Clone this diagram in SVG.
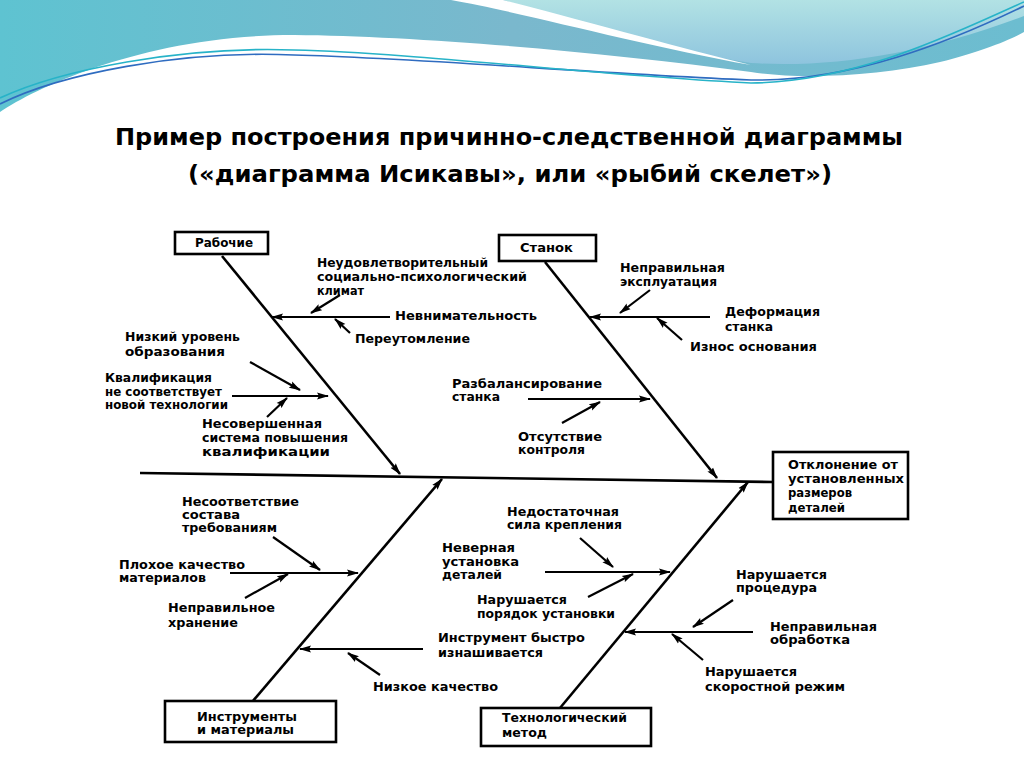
<svg xmlns="http://www.w3.org/2000/svg" width="1024" height="768" viewBox="0 0 1024 768">
<defs>
<linearGradient id="tealG" x1="0" y1="0" x2="1" y2="0">
<stop offset="0" stop-color="#5ec3d1"/>
<stop offset="0.5" stop-color="#7ab8cd"/>
<stop offset="1" stop-color="#6cbdd0"/>
</linearGradient>
<linearGradient id="blobG" x1="0" y1="0" x2="0" y2="1">
<stop offset="0" stop-color="#b2e2e4"/>
<stop offset="1" stop-color="#8ec4de"/>
</linearGradient>
<marker id="ah" viewBox="0 0 12 8" refX="11" refY="4" markerWidth="12" markerHeight="8" markerUnits="userSpaceOnUse" orient="auto">
<path d="M0,0.5 L12,4 L0,7.5 L2,4 Z" fill="#000"/>
</marker>
<style>
.t{font-family:"DejaVu Sans","Liberation Sans",sans-serif;font-weight:bold;font-size:12.5px;fill:#000}
.ttl{font-family:"DejaVu Sans","Liberation Sans",sans-serif;font-weight:bold;font-size:23px;fill:#000}
.bone{stroke:#000;stroke-width:2.6;fill:none}
.sub{stroke:#000;stroke-width:2.2;fill:none;marker-end:url(#ah)}
.box{fill:#fff;stroke:#000;stroke-width:2.6}
</style>
</defs>
<rect width="1024" height="768" fill="#fff"/>
<g id="background">
<rect x="0" y="0" width="1024" height="120" fill="url(#tealG)"/>
<path d="M503,0 C560,18 650,48 751,63 C830,68 920,55 1024,16 V0 Z" fill="url(#blobG)"/>
<path d="M451,0 C520,12 640,45 751,65 C680,48 600,25 503,0 Z" fill="#fff"/>
<path d="M0,112 C40,85 150,35 294,35 C420,36 600,52 751,72 C800,80 880,76 940,62 C980,52 1010,40 1024,32 V768 H0 Z" fill="#fff"/>
<path d="M0,104 C60,74 180,50 294,55 C420,58 600,74 751,80 C850,82 950,42 1024,6" fill="none" stroke="#2f6cc0" stroke-width="1.6"/>
<path d="M0,98 C60,70 180,46 294,50 C420,53 600,76 751,83 C860,82 960,30 1024,2" fill="none" stroke="#27b3c8" stroke-width="1.6"/>
</g>
<g id="title">
<text class="ttl" x="115" y="145" textLength="788" lengthAdjust="spacingAndGlyphs">Пример построения причинно-следственной диаграммы</text>
<text class="ttl" x="188" y="182" textLength="644" lengthAdjust="spacingAndGlyphs">(«диаграмма Исикавы», или «рыбий скелет»)</text>
</g>
<g id="connectors">
<line class="bone" x1="140" y1="473" x2="773" y2="482"/>
<line class="bone" x1="222" y1="256" x2="400" y2="474" marker-end="url(#ah)"/>
<line class="bone" x1="545" y1="262" x2="717" y2="478" marker-end="url(#ah)"/>
<line class="bone" x1="252" y1="702" x2="442" y2="479" marker-end="url(#ah)"/>
<line class="bone" x1="560" y1="708" x2="748" y2="482" marker-end="url(#ah)"/>
<line class="sub" x1="390" y1="317" x2="272" y2="317"/>
<line class="sub" x1="340" y1="295" x2="311" y2="313"/>
<line class="sub" x1="350" y1="333" x2="335" y2="319"/>
<line class="sub" x1="232" y1="396" x2="328" y2="396"/>
<line class="sub" x1="250" y1="362" x2="300" y2="390"/>
<line class="sub" x1="267" y1="417" x2="287" y2="398"/>
<line class="sub" x1="710" y1="317" x2="590" y2="317"/>
<line class="sub" x1="650" y1="290" x2="620" y2="313"/>
<line class="sub" x1="682" y1="340" x2="657" y2="318"/>
<line class="sub" x1="528" y1="399" x2="650" y2="399"/>
<line class="sub" x1="562" y1="423" x2="600" y2="402"/>
<line class="sub" x1="230" y1="573" x2="358" y2="573"/>
<line class="sub" x1="273" y1="537" x2="320" y2="570"/>
<line class="sub" x1="245" y1="598" x2="288" y2="574"/>
<line class="sub" x1="423" y1="649" x2="300" y2="649"/>
<line class="sub" x1="380" y1="675" x2="348" y2="653"/>
<line class="sub" x1="545" y1="572" x2="670" y2="572"/>
<line class="sub" x1="580" y1="538" x2="613" y2="567"/>
<line class="sub" x1="588" y1="597" x2="633" y2="574"/>
<line class="sub" x1="753" y1="632" x2="625" y2="632"/>
<line class="sub" x1="733" y1="600" x2="693" y2="627"/>
<line class="sub" x1="703" y1="660" x2="672" y2="634"/>
</g>
<g id="node-workers">
<rect class="box" x="175" y="232" width="93" height="22"/>
<text class="t" x="195" y="247" textLength="58" lengthAdjust="spacingAndGlyphs">Рабочие</text>
</g>
<g id="node-machine">
<rect class="box" x="499" y="235" width="97" height="26"/>
<text class="t" x="520" y="252" textLength="53" lengthAdjust="spacingAndGlyphs">Станок</text>
</g>
<g id="node-tools">
<rect class="box" x="165" y="701" width="171" height="41"/>
<text class="t" x="197" y="721" textLength="100" lengthAdjust="spacingAndGlyphs">Инструменты</text>
<text class="t" x="197" y="734" textLength="97" lengthAdjust="spacingAndGlyphs">и материалы</text>
</g>
<g id="node-method">
<rect class="box" x="481" y="708" width="170" height="38"/>
<text class="t" x="502" y="722" textLength="125" lengthAdjust="spacingAndGlyphs">Технологический</text>
<text class="t" x="502" y="737" textLength="45" lengthAdjust="spacingAndGlyphs">метод</text>
</g>
<g id="node-effect">
<rect class="box" x="773" y="452" width="135" height="67"/>
<text class="t" x="788" y="469" textLength="110" lengthAdjust="spacingAndGlyphs">Отклонение от</text>
<text class="t" x="788" y="483" textLength="116" lengthAdjust="spacingAndGlyphs">установленных</text>
<text class="t" x="788" y="497" textLength="64" lengthAdjust="spacingAndGlyphs">размеров</text>
<text class="t" x="788" y="512" textLength="57" lengthAdjust="spacingAndGlyphs">деталей</text>
</g>
<g id="causes-workers">
<text class="t" x="317" y="267" textLength="171" lengthAdjust="spacingAndGlyphs">Неудовлетворительный</text>
<text class="t" x="317" y="281" textLength="210" lengthAdjust="spacingAndGlyphs">социально-психологический</text>
<text class="t" x="317" y="295" textLength="47" lengthAdjust="spacingAndGlyphs">климат</text>
<text class="t" x="395" y="320" textLength="142" lengthAdjust="spacingAndGlyphs">Невнимательность</text>
<text class="t" x="355" y="343" textLength="115" lengthAdjust="spacingAndGlyphs">Переутомление</text>
<text class="t" x="125" y="341" textLength="115" lengthAdjust="spacingAndGlyphs">Низкий уровень</text>
<text class="t" x="125" y="356" textLength="100" lengthAdjust="spacingAndGlyphs">образования</text>
<text class="t" x="105" y="382" textLength="107" lengthAdjust="spacingAndGlyphs">Квалификация</text>
<text class="t" x="105" y="396" textLength="117" lengthAdjust="spacingAndGlyphs">не соответствует</text>
<text class="t" x="105" y="409" textLength="123" lengthAdjust="spacingAndGlyphs">новой технологии</text>
<text class="t" x="202" y="428" textLength="120" lengthAdjust="spacingAndGlyphs">Несовершенная</text>
<text class="t" x="202" y="442" textLength="146" lengthAdjust="spacingAndGlyphs">система повышения</text>
<text class="t" x="202" y="456" textLength="128" lengthAdjust="spacingAndGlyphs">квалификации</text>
</g>
<g id="causes-machine">
<text class="t" x="620" y="272" textLength="105" lengthAdjust="spacingAndGlyphs">Неправильная</text>
<text class="t" x="620" y="286" textLength="97" lengthAdjust="spacingAndGlyphs">эксплуатация</text>
<text class="t" x="725" y="316" textLength="95" lengthAdjust="spacingAndGlyphs">Деформация</text>
<text class="t" x="725" y="331" textLength="48" lengthAdjust="spacingAndGlyphs">станка</text>
<text class="t" x="690" y="351" textLength="127" lengthAdjust="spacingAndGlyphs">Износ основания</text>
<text class="t" x="452" y="388" textLength="150" lengthAdjust="spacingAndGlyphs">Разбалансирование</text>
<text class="t" x="452" y="401" textLength="48" lengthAdjust="spacingAndGlyphs">станка</text>
<text class="t" x="518" y="441" textLength="84" lengthAdjust="spacingAndGlyphs">Отсутствие</text>
<text class="t" x="518" y="454" textLength="67" lengthAdjust="spacingAndGlyphs">контроля</text>
</g>
<g id="causes-tools">
<text class="t" x="182" y="506" textLength="117" lengthAdjust="spacingAndGlyphs">Несоответствие</text>
<text class="t" x="182" y="519" textLength="58" lengthAdjust="spacingAndGlyphs">состава</text>
<text class="t" x="182" y="532" textLength="95" lengthAdjust="spacingAndGlyphs">требованиям</text>
<text class="t" x="119" y="569" textLength="126" lengthAdjust="spacingAndGlyphs">Плохое качество</text>
<text class="t" x="119" y="582" textLength="87" lengthAdjust="spacingAndGlyphs">материалов</text>
<text class="t" x="168" y="612" textLength="107" lengthAdjust="spacingAndGlyphs">Неправильное</text>
<text class="t" x="168" y="627" textLength="70" lengthAdjust="spacingAndGlyphs">хранение</text>
<text class="t" x="438" y="642" textLength="147" lengthAdjust="spacingAndGlyphs">Инструмент быстро</text>
<text class="t" x="438" y="657" textLength="105" lengthAdjust="spacingAndGlyphs">изнашивается</text>
<text class="t" x="373" y="691" textLength="125" lengthAdjust="spacingAndGlyphs">Низкое качество</text>
</g>
<g id="causes-method">
<text class="t" x="507" y="516" textLength="112" lengthAdjust="spacingAndGlyphs">Недостаточная</text>
<text class="t" x="507" y="529" textLength="115" lengthAdjust="spacingAndGlyphs">сила крепления</text>
<text class="t" x="442" y="552" textLength="73" lengthAdjust="spacingAndGlyphs">Неверная</text>
<text class="t" x="442" y="566" textLength="77" lengthAdjust="spacingAndGlyphs">установка</text>
<text class="t" x="442" y="579" textLength="60" lengthAdjust="spacingAndGlyphs">деталей</text>
<text class="t" x="477" y="604" textLength="90" lengthAdjust="spacingAndGlyphs">Нарушается</text>
<text class="t" x="477" y="618" textLength="138" lengthAdjust="spacingAndGlyphs">порядок установки</text>
<text class="t" x="736" y="579" textLength="91" lengthAdjust="spacingAndGlyphs">Нарушается</text>
<text class="t" x="736" y="592" textLength="81" lengthAdjust="spacingAndGlyphs">процедура</text>
<text class="t" x="770" y="631" textLength="107" lengthAdjust="spacingAndGlyphs">Неправильная</text>
<text class="t" x="770" y="644" textLength="80" lengthAdjust="spacingAndGlyphs">обработка</text>
<text class="t" x="705" y="676" textLength="92" lengthAdjust="spacingAndGlyphs">Нарушается</text>
<text class="t" x="705" y="691" textLength="140" lengthAdjust="spacingAndGlyphs">скоростной режим</text>
</g>
</svg>
